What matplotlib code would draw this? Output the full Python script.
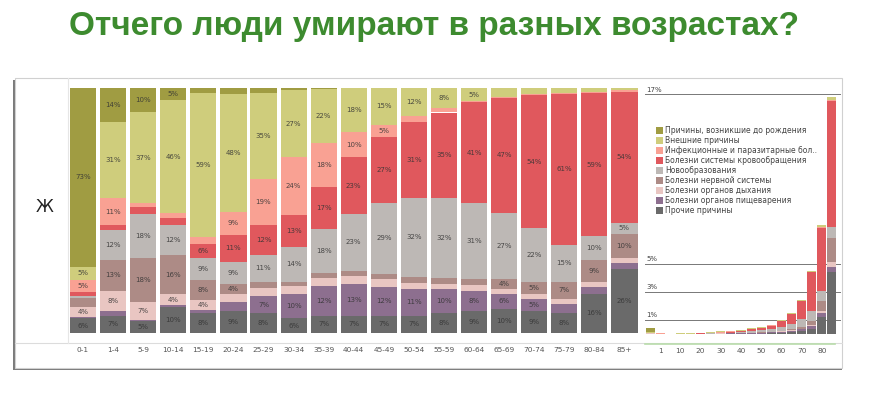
import matplotlib
matplotlib.use("Agg")
import matplotlib.pyplot as plt
import numpy as np
from matplotlib.patches import Rectangle, Patch
from matplotlib.lines import Line2D

# ---- data ----
ages = ["0-1", "1-4", "5-9", "10-14", "15-19", "20-24", "25-29", "30-34",
        "35-39", "40-44", "45-49", "50-54", "55-59", "60-64", "65-69",
        "70-74", "75-79", "80-84", "85+"]

# share of deaths by cause within each age group, %
perinatal   = [73, 14, 10, 5, 2, 2.5, 2, 1, 0.5, 0, 0, 0, 0, 0, 0, 0, 0, 0, 0]
external    = [5.4, 31, 37, 46, 59, 48, 35, 27, 22, 18, 15, 11.5, 8, 5.4,
               3.5, 2.5, 2, 1.5, 1]
infectious  = [5, 11, 1.5, 2, 2.5, 9, 19, 24, 18, 10, 5, 2.5, 2, 0.5, 0.5,
               0.5, 0.5, 0.5, 0.5]
circulatory = [1.5, 2, 3, 3, 6, 11, 12, 13, 17, 23, 27, 31, 35, 41, 47, 54,
               61, 58.6, 53.5]
neoplasms   = [1, 12, 18, 12, 9, 9, 11, 14, 18, 23, 29, 32, 32.5, 31, 27, 22,
               15, 9.6, 4.6]
nervous     = [3.5, 13, 18, 16, 8, 4, 2.5, 2, 2, 2.2, 2.3, 2.5, 2.5, 2.5, 4,
               5, 7, 9, 10]
respiratory = [4, 8, 7, 4.4, 4, 3.5, 3.5, 3, 3.5, 3, 3, 2.5, 2, 2.5, 2, 2, 2,
               2, 2]
digestive   = [0.5, 2, 0.5, 1, 1.5, 3.5, 7, 10, 12, 13, 12, 11, 10, 8, 6, 5,
               3.8, 3, 2.5]
other       = [6.1, 7, 5, 10.4, 8, 9, 8, 6, 7, 7, 7, 7, 8, 9, 10, 9, 8, 16, 26]

# share of all deaths falling into each age group (right mini chart), %
mortality = [0.45, 0.07, 0.03, 0.04, 0.07, 0.1, 0.14, 0.2, 0.24, 0.3, 0.4,
             0.5, 0.66, 0.97, 1.5, 2.4, 4.5, 7.7, 16.8]
mini_ticks = ["1", "10", "20", "30", "40", "50", "60", "70", "80"]
grid_levels = [1, 3, 5, 17]

labels = ["Причины, возникшие до рождения", "Внешние причины",
          "Инфекционные и паразитарные бол..",
          "Болезни системы кровообращения", "Новообразования",
          "Болезни нервной системы", "Болезни органов дыхания",
          "Болезни органов пищеварения", "Прочие причины"]
colors = ["#a09c42", "#cfcd7c", "#f9a193", "#e0585d", "#bdb8b5", "#ad8b86",
          "#e9c6c2", "#8d6f8f", "#6a6a6a"]
series = [perinatal, external, infectious, circulatory, neoplasms, nervous,
          respiratory, digestive, other]

W, H = 873, 393
fig = plt.figure(figsize=(W / 100, H / 100), dpi=100)
plt.rcParams["font.family"] = ["DejaVu Sans"]


def fx(px):
    return px / W


def fy(py):
    return 1 - py / H


# framed "screenshot" box with shadow (kept behind the axes)
fig.patches.append(Rectangle((fx(13), fy(370)), fx(829), (370 - 80) / H,
                             transform=fig.transFigure, facecolor="#5a5a5a",
                             edgecolor="none", alpha=0.8, zorder=-3))
fig.patches.append(Rectangle((fx(15), fy(368)), fx(827), (368 - 78) / H,
                             transform=fig.transFigure, facecolor="white",
                             edgecolor="#d0d0d0", lw=0.8, zorder=-2))
fig.lines.append(Line2D([fx(15), fx(842)], [fy(343), fy(343)],
                        transform=fig.transFigure, color="#dcdcdc", lw=0.8,
                        zorder=-1))
fig.lines.append(Line2D([fx(645), fx(835)], [fy(343.5), fy(343.5)],
                        transform=fig.transFigure, color="#b9dcab", lw=1.2,
                        zorder=-1))
fig.lines.append(Line2D([fx(68), fx(68)], [fy(78), fy(343)],
                        transform=fig.transFigure, color="#e6e6e6", lw=0.8,
                        zorder=-1))

fig.text(0.497, fy(26), "Отчего люди умирают в разных возрастах?",
         ha="center", va="center", fontsize=24, fontweight="bold",
         color="#3d8b2f", family="Liberation Sans")
fig.text(fx(45), fy(207), "Ж", ha="center", va="center", fontsize=12,
         color="#222222")

# ---- main 100% stacked chart ----
ax = fig.add_axes([fx(68), fy(333), fx(639.5 - 68), (333 - 88) / H])
ax.set_facecolor("none")
x = np.arange(len(ages))
data = np.array(series, dtype=float)          # rows: causes (top -> bottom)
totals = data.sum(axis=0)
norm = data / totals * 100

bottom = np.zeros(len(ages))
for i in range(len(series) - 1, -1, -1):      # stack from "other" upwards
    h = norm[i]
    ax.bar(x, h, bottom=bottom, width=0.87, color=colors[i], lw=0)
    for j in range(len(ages)):
        if data[i, j] >= 4:
            ax.text(x[j], bottom[j] + h[j] / 2, f"{data[i, j]:.0f}%",
                    ha="center", va="center", fontsize=5, color="#333333",
                    alpha=0.85)
    bottom += h

ax.set_xlim(-0.5, len(ages) - 0.5)
ax.set_ylim(0, 100)
ax.set_xticks(x)
ax.set_xticklabels(ages, fontsize=5.3, color="#555555")
ax.tick_params(axis="x", length=0, pad=10)
ax.set_yticks([])
for s in ax.spines.values():
    s.set_visible(False)

# ---- right mini chart: same causes scaled by age-group share ----
ax2 = fig.add_axes([fx(641), fy(334), fx(842 - 641), (334 - 88) / H])
ax2.set_facecolor("none")
mort = np.array(mortality)
bottom = np.zeros(len(ages))
for i in range(len(series) - 1, -1, -1):
    h = norm[i] / 100 * mort
    ax2.bar(x, h, bottom=bottom, width=0.9, color=colors[i], lw=0)
    bottom += h
ax2.set_xlim(-0.9, 19.0)
ax2.set_ylim(0, 17.45)
for lev in grid_levels:
    ax2.axhline(lev, xmin=0.02, xmax=0.99, color="#777777", lw=0.7,
                zorder=0.5)
    ax2.text(0.025, lev + 0.12, f"{lev}%", transform=ax2.get_yaxis_transform(),
             fontsize=5, color="#444444", va="bottom", ha="left")
ax2.set_xticks(x[1::2])
ax2.set_xticklabels(mini_ticks, fontsize=5.3, color="#555555")
ax2.tick_params(axis="x", length=0, pad=10)
ax2.set_yticks([])
for s in ax2.spines.values():
    s.set_visible(False)

handles = [Patch(facecolor=c, edgecolor="none") for c in colors]
ax2.legend(handles, labels, loc="upper left", bbox_to_anchor=(0.075, 0.845),
           frameon=False, fontsize=5.5, handlelength=0.9, handleheight=0.9,
           handletextpad=0.25, labelspacing=0.13, borderpad=0,
           borderaxespad=0, labelcolor="#444444")

fig.savefig("out.png", dpi=100)
